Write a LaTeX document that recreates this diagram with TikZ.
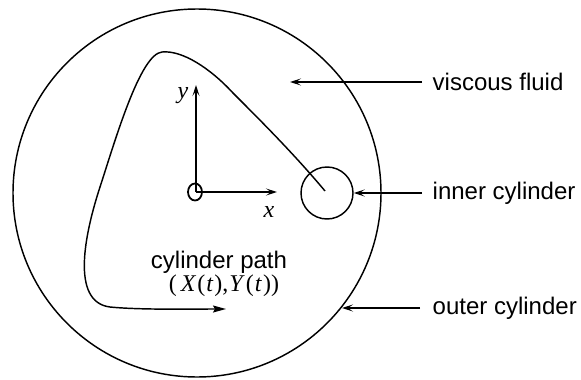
\documentclass[tikz,border=0pt]{standalone}
\usepackage{fontspec}
\setmainfont{Liberation Sans}
\newfontfamily\tmsfont{Liberation Serif}
\usetikzlibrary{arrows.meta,shapes.geometric}
\begin{document}
\begin{tikzpicture}[x=1pt,y=-1pt,line width=1.45pt,
  lbl/.style={font=\fontsize{24}{26}\selectfont,anchor=west,inner sep=0pt},
  mth/.style={font=\fontsize{24}{26}\tmsfont\itshape,inner sep=0pt},
  thinarrow/.style={-{Stealth[length=11pt,width=7pt,inset=5pt]}},
  patharrow/.style={-{Stealth[length=13pt,width=7pt,inset=2pt]}}]
\useasboundingbox (0,0) rectangle (581,380);
% outer cylinder
\node[draw,circle,minimum size=368pt,inner sep=0pt] (outer) at (197,193) {};
% inner cylinder
\node[draw,circle,minimum size=52pt,inner sep=0pt] (inner) at (327,193) {};
\coordinate (ic) at (325,191);
% origin
\node[draw,ellipse,minimum width=14pt,minimum height=17pt,inner sep=0pt,line width=1.8pt] (o) at (195,192) {};
\coordinate (yend) at (196,85);
\coordinate (xend) at (277,192);
\draw[thinarrow] (196,192) -- (yend);
\draw[thinarrow] (196,192) -- (xend);
\node[mth] (ylab) at (183,96) {y};
\node[mth] (xlab) at (269,212) {x};
% path
\coordinate (pend) at (226,309);
\draw[patharrow] (ic) .. controls (295,155) and (260,120) .. (233,93)
  .. controls (210,68) and (182,50) .. (162,52)
  .. controls (140,54) and (115,141) .. (100,187)
  .. controls (85,233) and (70,302) .. (110,307)
  .. controls (140,310) and (190,309) .. (pend);
\node[lbl,anchor=center] (cp) at (219,262) {cylinder path};
\node[mth,anchor=center,font=\fontsize{24}{26}\tmsfont] (xy) at (224,286) {(\,\textit{X}\kern1pt(\kern1pt\textit{t}\kern1pt),\kern1pt\textit{Y}\kern1pt(\kern1pt\textit{t}\kern1pt))};
% labels
\node[lbl] (vf) at (432,82) {viscous fluid};
\node[lbl] (ic2) at (432,193) {inner cylinder};
\node[lbl] (oc) at (432,308) {outer cylinder};
\coordinate (vft) at (290,82);
\coordinate (oct) at (342,308);
\draw[thinarrow] ([xshift=-10pt]vf.west) -- (vft);
\draw[thinarrow] ([xshift=-10pt]ic2.west) -- (inner.east);
\draw[thinarrow] ([xshift=-12pt]oc.west) -- (oct);
\end{tikzpicture}
\end{document}
